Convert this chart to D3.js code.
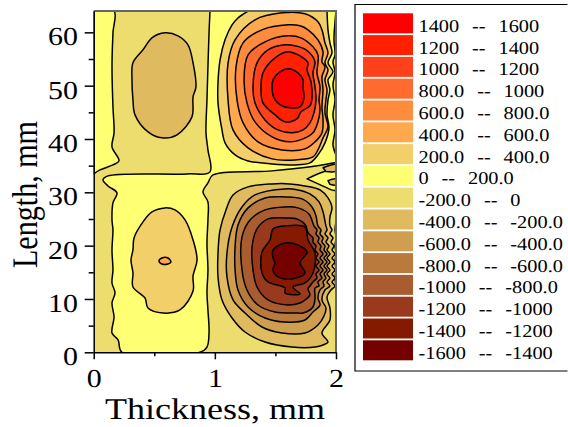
<!DOCTYPE html>
<html><head><meta charset="utf-8">
<script src="https://cdn.jsdelivr.net/npm/d3@7"></script>
<style>html,body{margin:0;padding:0;background:#fff}svg{display:block}text{font-family:"Liberation Serif",serif;fill:#000;text-rendering:geometricPrecision}</style>
</head><body><svg id="c" width="568" height="427"></svg>
<script>
const legendLabels=["1400  --  1600","1200  --  1400","1000  --  1200","800.0  --  1000","600.0  --  800.0","400.0  --  600.0","200.0  --  400.0","0  --  200.0","-200.0  --  0","-400.0  --  -200.0","-600.0  --  -400.0","-800.0  --  -600.0","-1000  --  -800.0","-1200  --  -1000","-1400  --  -1200","-1600  --  -1400"];
const levelColors=["#ff0000","#ff2000","#ff401a","#ff6a2f","#ff8c3e","#ffa94f","#f3cf6a","#ffff73","#eddd6e","#dfba5f","#cf9f4f","#ba7a3d","#a95c2f","#9a3a1c","#861a00","#750000"];
const xTicks=[0,1,2], xMinor=[0.5,1.5], yTicks=[0,10,20,30,40,50,60], yMinor=[5,15,25,35,45,55];

// Contour outlines: [thickness mm, length mm]
const pos1400=[[1.604,53.15],[1.538,52.59],[1.48,51.09],[1.472,49.6],[1.488,47.71],[1.538,46.4],[1.62,45.84],[1.703,46.03],[1.736,47.71],[1.728,49.6],[1.728,51.09],[1.686,52.4]];
const pos1200=[[1.604,56.34],[1.497,55.22],[1.397,52.4],[1.381,49.22],[1.397,46.78],[1.497,44.52],[1.579,43.21],[1.678,43.77],[1.711,45.09],[1.785,46.21],[1.802,47.71],[1.794,50.7],[1.761,52.97],[1.769,54.28],[1.728,55.22],[1.67,55.97]];
const pos1000=[[1.579,57.66],[1.439,56.72],[1.348,54.28],[1.315,49.78],[1.331,46.78],[1.414,43.58],[1.521,41.7],[1.637,41.15],[1.728,41.7],[1.785,43.02],[1.818,44.9],[1.835,47.34],[1.827,49.78],[1.81,52.4],[1.827,54.28],[1.81,55.4],[1.753,56.72],[1.662,57.47]];
const pos800=[[1.604,59.34],[1.414,58.22],[1.274,55.78],[1.241,51.09],[1.265,46.78],[1.331,43.21],[1.472,40.4],[1.62,39.46],[1.728,40.02],[1.81,41.15],[1.851,43.21],[1.868,45.46],[1.86,47.34],[1.868,49.78],[1.843,52.4],[1.851,54.28],[1.851,55.78],[1.81,57.28],[1.711,58.97]];
const pos600=[[1.604,61.4],[1.389,60.47],[1.233,58.03],[1.175,53.53],[1.183,47.34],[1.233,43.02],[1.356,39.46],[1.554,37.95],[1.744,38.14],[1.827,39.46],[1.884,41.15],[1.893,43.58],[1.884,46.03],[1.893,49.22],[1.884,51.65],[1.909,53.53],[1.884,54.47],[1.893,56.34],[1.851,58.6],[1.769,60.47],[1.703,61.22]];
const pos400=[[1.554,63.66],[1.331,62.35],[1.167,58.6],[1.109,54.28],[1.109,47.34],[1.15,41.7],[1.274,38.33],[1.472,36.27],[1.662,36.08],[1.81,36.64],[1.851,37.95],[1.893,40.21],[1.934,42.27],[1.909,44.9],[1.917,47.34],[1.926,49.22],[1.909,51.09],[1.934,52.97],[1.909,54.28],[1.934,56.15],[1.909,58.03],[1.884,60.47],[1.851,61.97],[1.744,63.48]];
const pos200=[[1.274,64],[1.191,62.7],[1.142,61.4],[1.084,58.6],[1.043,54.84],[1.026,50.53],[1.026,46.78],[1.059,41.7],[1.084,39.27],[1.167,37.02],[1.274,35.89],[1.472,35.33],[1.662,35.14],[1.785,35.51],[1.851,37.02],[1.909,39.27],[1.942,42.08],[1.926,44.52],[1.934,47.34],[1.95,49.22],[1.934,51.09],[1.975,52.59],[1.934,54.28],[1.967,56.15],[1.95,58.03],[1.934,60.47],[1.926,64]];
const yellowLeft=[[0,64],[0.168,64],[0.159,59.91],[0.151,53.53],[0.159,46.03],[0.168,41.15],[0.151,38.52],[0.209,35.89],[0.159,35.14],[0.052,34.2],[0,33.45]];
const yellowMain=[[0.96,64],[0.952,59.91],[0.943,53.53],[0.935,47.34],[0.927,41.15],[0.943,37.95],[0.96,33.83],[0.77,33.45],[0.118,33.08],[0.077,32.33],[0.118,31.2],[0.192,29.89],[0.159,28.01],[0.151,24.82],[0.159,22.95],[0.151,19.19],[0.159,15.44],[0.151,13],[0.176,11.13],[0.151,9.25],[0.168,6.62],[0.151,3.62],[0.201,2.31],[0.234,0],[0.877,0],[0.935,0.99],[0.952,3.62],[0.943,7.94],[0.935,11.13],[0.943,15.44],[0.935,20.51],[0.943,24.82],[0.943,28.2],[0.902,30.08],[0.943,31.76],[0.985,33.27],[1.472,34.02],[1.975,35.51],[2,35.7],[2,64]];
const topOval=[[0.588,59.91],[0.481,58.97],[0.407,56.72],[0.324,54.28],[0.316,51.09],[0.324,47.34],[0.341,44.52],[0.448,41.33],[0.563,40.21],[0.688,40.77],[0.811,44.15],[0.82,47.9],[0.844,49.78],[0.82,54.28],[0.778,57.66],[0.696,59.34]];
const lowOval=[[0.588,27.08],[0.481,26.32],[0.407,24.45],[0.333,21.45],[0.324,19.19],[0.308,17.32],[0.324,14.88],[0.324,12.25],[0.423,10.19],[0.448,8.31],[0.572,7.37],[0.712,7.94],[0.82,11.5],[0.82,14.32],[0.853,17.32],[0.82,21.07],[0.754,24.82],[0.671,26.7]];
const lowCore=[[0.539,17.13],[0.563,17.69],[0.613,17.69],[0.638,16.94],[0.613,16.57],[0.563,16.57]];
const neg200=[[1.472,31.58],[1.274,31.02],[1.15,29.51],[1.092,26.7],[1.043,22.95],[1.026,18.63],[1.026,14.13],[1.059,9.81],[1.142,6.44],[1.249,3.81],[1.414,1.93],[1.637,0.99],[1.827,0.99],[1.893,1.37],[1.934,1.93],[1.884,3.62],[1.95,6.06],[1.95,8.31],[1.926,10.38],[1.959,11.69],[1.992,12.44],[1.967,13.19],[1.992,13.94],[1.967,14.69],[1.992,15.44],[1.967,16.19],[1.992,16.94],[1.967,17.69],[1.992,18.44],[1.967,19.19],[1.984,19.94],[1.959,20.69],[1.975,21.45],[1.95,22.2],[1.967,22.95],[1.95,23.7],[1.95,25.39],[1.967,27.08],[1.934,28.95],[1.868,30.45],[1.744,31.2],[1.62,31.58]];
const neg400=[[1.579,30.64],[1.331,29.51],[1.224,27.26],[1.142,23.51],[1.1,18.63],[1.1,14.13],[1.15,9.81],[1.249,7.37],[1.389,4.75],[1.554,3.62],[1.744,3.62],[1.851,5.12],[1.901,6.8],[1.917,8.31],[1.884,9.81],[1.909,11.69],[1.95,12.44],[1.926,13.19],[1.95,13.94],[1.926,14.69],[1.95,15.44],[1.926,16.19],[1.95,16.94],[1.926,17.69],[1.95,18.44],[1.926,19.19],[1.942,19.94],[1.917,20.69],[1.934,21.45],[1.909,22.2],[1.926,22.95],[1.917,23.7],[1.893,26.32],[1.86,28.2],[1.785,29.7],[1.686,30.45]];
const neg600=[[1.579,29.14],[1.414,28.95],[1.274,27.08],[1.191,23.88],[1.167,19.76],[1.167,15.44],[1.191,11.69],[1.274,8.5],[1.414,6.44],[1.579,5.68],[1.744,6.06],[1.81,7.56],[1.868,8.87],[1.851,10.19],[1.868,11.69],[1.901,12.44],[1.893,13.19],[1.917,13.94],[1.901,14.69],[1.926,15.44],[1.901,16.19],[1.926,16.94],[1.901,17.69],[1.926,18.44],[1.901,19.19],[1.909,19.94],[1.884,20.69],[1.893,21.45],[1.868,22.2],[1.876,22.95],[1.851,23.7],[1.835,25.57],[1.802,27.26],[1.72,28.76]];
const neg800=[[1.579,27.26],[1.414,26.7],[1.29,24.82],[1.224,21.63],[1.224,15.44],[1.265,11.69],[1.356,8.87],[1.497,7.56],[1.686,7.37],[1.728,7.37],[1.81,8.5],[1.827,10.19],[1.827,12.06],[1.86,12.44],[1.851,13.19],[1.884,13.94],[1.868,14.69],[1.893,15.44],[1.868,16.19],[1.893,16.94],[1.868,17.69],[1.893,18.44],[1.868,19.19],[1.876,19.94],[1.851,20.69],[1.86,21.45],[1.835,22.2],[1.843,22.95],[1.818,23.7],[1.777,25.95],[1.686,27.08]];
const neg1000=[[1.579,25.2],[1.439,25.01],[1.348,23.13],[1.307,19.76],[1.315,15.44],[1.348,12.25],[1.439,9.81],[1.604,8.87],[1.703,9.25],[1.744,9.81],[1.785,10.75],[1.769,11.9],[1.785,12.44],[1.81,13.19],[1.843,13.94],[1.835,14.69],[1.86,15.44],[1.835,16.19],[1.86,16.94],[1.835,17.69],[1.851,18.44],[1.827,19.19],[1.835,19.94],[1.81,20.69],[1.81,21.45],[1.777,22.2],[1.76,22.95],[1.753,23.7],[1.678,25.01]];
const neg1200=[[1.579,23.7],[1.48,23.13],[1.455,21.07],[1.389,18.82],[1.389,14.88],[1.439,13.19],[1.579,12.06],[1.579,11.13],[1.703,10.94],[1.645,12.25],[1.744,13],[1.81,14.88],[1.827,18.63],[1.769,21.07],[1.744,23.51]];
const neg1400=[[1.579,20.51],[1.48,19.19],[1.48,17.69],[1.497,16.76],[1.48,15.44],[1.521,14.13],[1.637,13.75],[1.744,14.88],[1.703,16.76],[1.761,18.82],[1.686,20.13]];
const rightSliverTop=[[2,64],[1.992,62],[1.983,58.6],[1.992,55.78],[1.975,54.47],[1.992,52.59],[1.975,50.16],[1.992,47.34],[1.975,44.52],[1.992,41.7],[1.975,38.9],[2,37]];
const rightSliverLow=[[2,24.5],[1.992,23],[2,21.5],[1.992,20],[2,18.5],[1.992,17],[2,15.5],[1.992,14],[2,12.5]];
const wedgeYellow=[[1.761,32.51],[1.893,33.8],[2,34.2],[2,30.4],[1.926,30.83]];
const tanUpper=[[1.893,34.6],[2,35.2],[2,34],[1.917,33.9]];
const tanLower=[[1.934,32.2],[2,32.5],[2,31.4],[1.95,31.5]];

const plot={l:93.7,r:336,t:11,b:352.3};
const x=d3.scaleLinear().domain([0,2]).range([plot.l,plot.r]);
const y=d3.scaleLinear().domain([0,64]).range([plot.b,plot.t]);
const closedLine=d3.line().x(d=>x(d[0])).y(d=>y(d[1])).curve(d3.curveCatmullRomClosed.alpha(0.5));
const edgeLine=d3.line().x(d=>x(d[0])).y(d=>y(d[1])).curve(d3.curveCatmullRom.alpha(0.5));
const svg=d3.select("#c");
svg.append("clipPath").attr("id","pc").append("rect").attr("x",plot.l).attr("y",plot.t).attr("width",plot.r-plot.l).attr("height",plot.b-plot.t);
const g=svg.append("g").attr("clip-path","url(#pc)");
g.append("rect").attr("x",plot.l).attr("y",plot.t).attr("width",plot.r-plot.l).attr("height",plot.b-plot.t).attr("fill",levelColors[8]);
const regions=[
 [yellowLeft,7,1],[yellowMain,7,1],[topOval,9,0],[lowOval,6,0],[lowCore,5,0],
 [pos200,6,1],[pos400,5,0],[pos600,4,0],[pos800,3,0],[pos1000,2,0],[pos1200,1,0],[pos1400,0,0],
 [neg200,9,0],[neg400,10,0],[neg600,11,0],[neg800,12,0],[neg1000,13,0],[neg1200,14,0],[neg1400,15,0],
 [rightSliverTop,8,1],[rightSliverLow,7,1],[wedgeYellow,7,1],[tanUpper,9,1],[tanLower,9,1]];
regions.forEach(([pts,c,edge])=>{
  g.append("path").attr("d",edge?edgeLine(pts)+"Z":closedLine(pts))
   .attr("fill",levelColors[c]).attr("stroke","#000").attr("stroke-width",1.5).attr("stroke-linejoin","round");
});
// frame
svg.append("path").attr("d",`M${plot.l},${plot.t}H${plot.r}V${plot.b}`).attr("fill","none").attr("stroke","#666").attr("stroke-width",2);
// axes
const xAxis=d3.axisBottom(x).tickValues(xTicks).tickSize(7).tickSizeOuter(0).tickFormat(d3.format("d"));
const gx=svg.append("g").attr("transform",`translate(0,${plot.b})`).call(xAxis);
gx.selectAll("text").attr("y",0).attr("dy",null).attr("font-size",26).attr("font-family","Liberation Serif").attr("transform","translate(0,35) scale(1.15,1)");
svg.append("g").attr("transform",`translate(0,${plot.b})`).call(d3.axisBottom(x).tickValues(xMinor).tickSize(4).tickSizeOuter(0).tickFormat("")).select(".domain").remove();
const yAxis=d3.axisLeft(y).tickValues(yTicks).tickSize(9).tickSizeOuter(0).tickFormat(d3.format("d"));
const gy=svg.append("g").attr("transform",`translate(${plot.l},0)`).call(yAxis);
gy.selectAll("text").attr("x",0).attr("dy",null).attr("font-size",26).attr("font-family","Liberation Serif").attr("transform","translate(-15.7,12.5) scale(1.15,1)");
svg.append("g").attr("transform",`translate(${plot.l},0)`).call(d3.axisLeft(y).tickValues(yMinor).tickSize(5).tickSizeOuter(0).tickFormat("")).select(".domain").remove();
svg.selectAll(".tick line,.domain").attr("stroke","#000").attr("stroke-width",1.5);
svg.append("text").attr("x",105).attr("y",419).attr("font-size",30).attr("textLength",220).attr("lengthAdjust","spacingAndGlyphs").text("Thickness, mm");
svg.append("text").attr("transform","translate(36.7,268) scale(1.2,1) rotate(-90)").attr("font-size",30).attr("textLength",147).attr("lengthAdjust","spacingAndGlyphs").text("Length, mm");
// legend
svg.append("path").attr("d","M567.5,4.5H355V371H567.5").attr("fill","none").attr("stroke","#000").attr("stroke-width",1.2);
const rowY=d3.scaleLinear().domain([0,15]).range([13.3,340.3]);
const rows=svg.append("g").selectAll("g").data(legendLabels).join("g");
rows.append("rect").attr("x",363).attr("width",50).attr("y",(d,i)=>rowY(i)).attr("height",20).attr("fill",(d,i)=>levelColors[i]);
rows.append("text").attr("transform",(d,i)=>`translate(418.5,${rowY(i)+18.4}) scale(1.13,1)`).attr("font-size",18).style("white-space","pre").style("word-spacing","1.2px").text(d=>d);
</script></body></html>
